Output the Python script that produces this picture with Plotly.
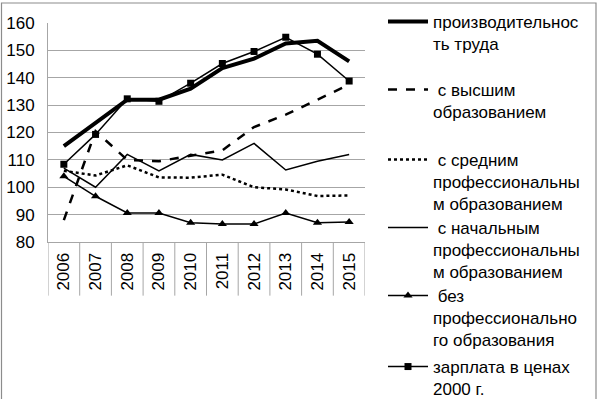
import plotly.graph_objects as go

years = ['2006', '2007', '2008', '2009', '2010', '2011', '2012', '2013', '2014', '2015']
productivity = [115, 123.5, 132, 132, 136, 143.5, 147, 152.5, 153.5, 146]
higher_edu = [88, 120.5, 110, 109.5, 111.5, 113.5, 122, 126.5, 132, 137.5]
secondary_prof = [106, 104.3, 108, 103.6, 103.5, 104.6, 100, 99.2, 96.8, 97]
primary_prof = [107, 100, 112, 106, 112, 110, 116, 106.3, 109.5, 112]
no_prof = [104, 96.7, 90.6, 90.6, 87, 86.6, 86.6, 90.6, 87, 87.3]
wage_2000 = [108.4, 119.3, 132.3, 131.4, 138, 145.2, 149.6, 154.8, 148.6, 138.8]

names = [
    'производительнос<br>ть труда',
    '\u00a0с высшим<br>образованием',
    '\u00a0с средним<br>профессиональны<br>м образованием',
    '\u00a0с начальным<br>профессиональны<br>м образованием',
    '\u00a0без<br>профессионально<br>го образования',
    'зарплата в ценах<br>2000 г.',
]
# pixel row of the first text line of each legend entry
legend_rows = [22, 90, 160, 228, 296, 367]

FONT = 'Liberation Sans, Arial, sans-serif'
FS = 17
GRID = '#a6a6a6'
ML, MT, PW, PH = 48, 23, 317, 219

fig = go.Figure()
styles = [
    dict(mode='lines', line=dict(color='black', width=4)),
    dict(mode='lines', line=dict(color='black', width=2.5, dash='dash')),
    dict(mode='lines', line=dict(color='black', width=2.5, dash='dot')),
    dict(mode='lines', line=dict(color='black', width=1.5)),
    dict(mode='lines+markers', line=dict(color='black', width=1.5),
         marker=dict(symbol='triangle-up', size=8, color='black')),
    dict(mode='lines+markers', line=dict(color='black', width=1.5),
         marker=dict(symbol='square', size=7, color='black')),
]
series = [productivity, higher_edu, secondary_prof, primary_prof, no_prof, wage_2000]
legend_ids = ['legend', 'legend2', 'legend3', 'legend4', 'legend5', 'legend6']
for i, (vals, st) in enumerate(zip(series, styles)):
    fig.add_trace(go.Scatter(x=years, y=vals, name=names[i], legend=legend_ids[i], **st))

# boundary dividers of the category axis
shapes = []
for i in range(len(years) + 1):
    shapes.append(dict(type='line', xref='x', yref='paper', x0=i - 0.5, x1=i - 0.5,
                       y0=0, y1=-0.245, line=dict(color=GRID, width=1)))
# outer chart frame
shapes.append(dict(type='rect', xref='paper', yref='paper',
                   x0=(1.5 - ML) / PW, x1=(596 - ML) / PW,
                   y0=(MT + PH - 402) / PH, y1=(MT + PH - 3) / PH,
                   line=dict(color='#8c8c8c', width=1.2), fillcolor='rgba(0,0,0,0)', layer='below'))

layout = dict(
    width=599, height=399,
    margin=dict(l=ML, r=599 - ML - PW, t=MT, b=399 - MT - PH, autoexpand=False),
    paper_bgcolor='white', plot_bgcolor='white',
    font=dict(family=FONT, size=FS, color='black'),
    showlegend=True,
    shapes=shapes,
    xaxis=dict(type='category', range=[-0.5, 9.5], tickangle=-90, showgrid=False,
               showline=True, linecolor=GRID, ticks='', tickfont=dict(size=FS),
               ticklabelstandoff=3, zeroline=False, automargin=False),
    yaxis=dict(range=[80, 160], tick0=80, dtick=10, showgrid=True, gridcolor=GRID, gridwidth=1,
               showline=True, linecolor=GRID, ticks='', tickfont=dict(size=FS),
               ticklabelstandoff=9, zeroline=False, automargin=False),
)
for lid, row in zip(legend_ids, legend_rows):
    layout[lid] = dict(x=(383 - ML) / PW, y=(MT + PH - (row - 18)) / PH,
                       xanchor='left', yanchor='top', valign='top', itemwidth=40,
                       font=dict(family=FONT, size=FS, color='black'),
                       bgcolor='rgba(0,0,0,0)')
fig.update_layout(**layout)

fig.write_html('out.html', config={'displayModeBar': False},
               post_script="document.body.style.margin='0px';")
